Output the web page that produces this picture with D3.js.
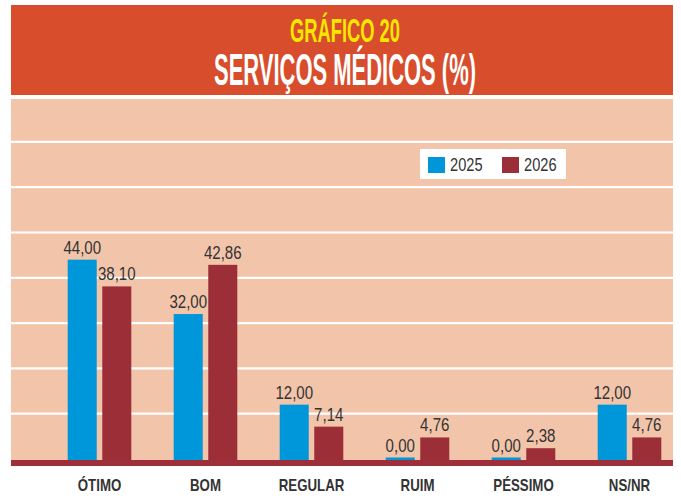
<!DOCTYPE html>
<html>
<head>
<meta charset="utf-8">
<script src="https://cdn.jsdelivr.net/npm/d3@7"></script>
<style>
  html, body { margin: 0; padding: 0; background: #ffffff; }
  svg { display: block; }
  .narrow { font-family: "Liberation Sans", Arial, sans-serif; }
</style>
</head>
<body>
<svg id="chart" width="681" height="504"></svg>
<script>
const titleTop = "GRÁFICO 20";
const titleMain = "SERVIÇOS MÉDICOS (%)";
const categories = ["ÓTIMO", "BOM", "REGULAR", "RUIM", "PÉSSIMO", "NS/NR"];
const seriesNames = ["2025", "2026"];
const values2025 = [44.00, 32.00, 12.00, 0.00, 0.00, 12.00];
const values2026 = [38.10, 42.86, 7.14, 4.76, 2.38, 4.76];
const gridTicks = [10, 20, 30, 40, 50, 60, 70];

const colors = { "2025": "#0096da", "2026": "#9c2e38" };
const rows = categories.map((c, i) => ({ cat: c, vals: [
  { s: "2025", v: values2025[i] }, { s: "2026", v: values2026[i] }
]}));

// squeeze text horizontally to imitate a condensed face
function squeeze(sel, k) {
  sel.each(function() {
    const w = this.getComputedTextLength();
    d3.select(this).attr("textLength", w * k).attr("lengthAdjust", "spacingAndGlyphs");
  });
}

const svg = d3.select("#chart");
const left = 11, right = 673;

// Header
svg.append("rect").attr("x", left).attr("y", 5).attr("width", right - left).attr("height", 90).attr("fill", "#d84d2b");
svg.append("text").attr("class", "narrow").attr("x", 345).attr("y", 41.5)
  .attr("text-anchor", "middle").attr("font-size", 34).attr("font-weight", "bold")
  .attr("fill", "#f7e600").attr("textLength", 110).attr("lengthAdjust", "spacingAndGlyphs").text(titleTop);
svg.append("text").attr("class", "narrow").attr("x", 345).attr("y", 85)
  .attr("text-anchor", "middle").attr("font-size", 45).attr("font-weight", "bold")
  .attr("fill", "#ffffff").attr("textLength", 262).attr("lengthAdjust", "spacingAndGlyphs").text(titleMain);

// Scales
const y = d3.scaleLinear().domain([0, 80]).range([459, 96.6]);
const x0 = d3.scaleBand().domain(categories).range([46.5, 682.5]).paddingInner(0.4).paddingOuter(0.2);
const x1 = d3.scaleBand().domain(seriesNames).range([0, x0.bandwidth()]).paddingInner(0.16).paddingOuter(0);

// Plot background
svg.append("rect").attr("x", left).attr("y", 99).attr("width", right - left).attr("height", y(0) + 2 - 99).attr("fill", "#f2c4aa");

// Gridlines
svg.append("g").selectAll("line").data(gridTicks).join("line")
  .attr("x1", left).attr("x2", right)
  .attr("y1", d => y(d)).attr("y2", d => y(d))
  .attr("stroke", "#ffffff").attr("stroke-width", 2.2);

// Bars
const groups = svg.append("g").selectAll("g").data(rows).join("g")
  .attr("transform", d => `translate(${x0(d.cat)},0)`);
groups.selectAll("rect").data(d => d.vals).join("rect")
  .attr("x", d => x1(d.s)).attr("width", x1.bandwidth())
  .attr("y", d => Math.min(y(d.v), y(0) - 1.5))
  .attr("height", d => y(0) + 2 - Math.min(y(d.v), y(0) - 1.5))
  .attr("fill", d => colors[d.s]);

const fmt = v => d3.format(".2f")(v).replace(".", ",");
groups.selectAll("text").data(d => d.vals).join("text")
  .attr("class", "narrow")
  .attr("x", d => x1(d.s) + x1.bandwidth() / 2)
  .attr("y", d => Math.min(y(d.v), y(0) - 1.5) - 6)
  .attr("text-anchor", "middle").attr("font-size", 17.5).attr("fill", "#333333")
  .text(d => fmt(d.v))
  .call(squeeze, 0.86);

// Axis bar
svg.append("rect").attr("x", left).attr("y", y(0) + 1).attr("width", right - left).attr("height", 6).attr("fill", "#9e2f3a");

// Category axis labels
const xAxis = d3.axisBottom(x0).tickSize(0).tickPadding(0);
const ax = svg.append("g").attr("transform", `translate(0,${y(0) + 20})`).call(xAxis);
ax.select(".domain").remove();
ax.selectAll("text").attr("class", "narrow").attr("font-size", 17).attr("font-weight", "bold")
  .attr("font-family", "Liberation Sans, Arial, sans-serif")
  .attr("fill", "#333333").attr("dy", "0.71em")
  .call(squeeze, 0.78);

// Legend
const lg = svg.append("g");
lg.append("rect").attr("x", 420).attr("y", 149).attr("width", 146).attr("height", 30).attr("fill", "#ffffff");
const legX = d3.scaleOrdinal().domain(seriesNames).range([428, 502]);
const items = lg.selectAll("g").data(seriesNames).join("g").attr("transform", d => `translate(${legX(d)},157)`);
items.append("rect").attr("width", 17).attr("height", 16).attr("fill", d => colors[d]);
items.append("text").attr("class", "narrow").attr("x", 22).attr("y", 14).attr("font-size", 18.5)
  .attr("fill", "#333333").text(d => d)
  .call(squeeze, 0.79);
</script>
</body>
</html>
